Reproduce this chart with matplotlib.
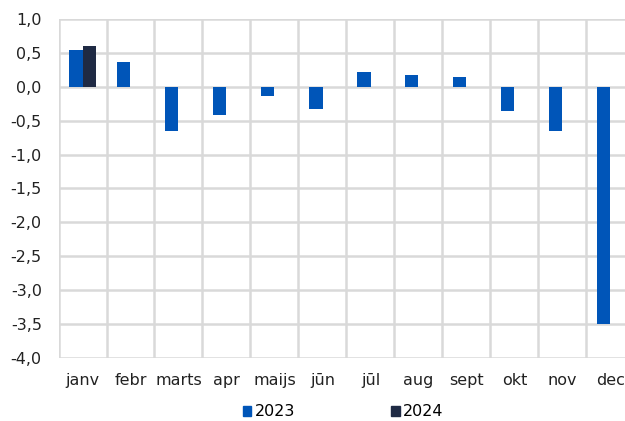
import matplotlib

matplotlib.use("Agg")
import matplotlib.pyplot as plt
import numpy as np
from matplotlib.patches import Patch

months = ["janv", "febr", "marts", "apr", "maijs", "jūn",
          "jūl", "aug", "sept", "okt", "nov", "dec"]
vals_2023 = [0.55, 0.36, -0.65, -0.42, -0.13, -0.33,
             0.22, 0.17, 0.14, -0.36, -0.65, -3.5]
vals_2024 = [0.60]
yticks = [1.0, 0.5, 0.0, -0.5, -1.0, -1.5, -2.0, -2.5, -3.0, -3.5, -4.0]

c2023 = "#0055b8"
c2024 = "#1f2a44"
grid_c = "#d9d9d9"

plt.rcParams["font.family"] = ["DejaVu Sans"]

fig = plt.figure(figsize=(6.25, 4.21), dpi=100)
ax = fig.add_axes([58.5 / 625, 63 / 421, 576 / 625, 339 / 421])

x = np.arange(len(months))
w = 0.29
ax.bar(x - w / 2, vals_2023, width=w, color=c2023, zorder=3)
ax.bar(x[: len(vals_2024)] + w / 2, vals_2024, width=w, color=c2024, zorder=3)

ax.set_xlim(-0.5, len(months) - 0.5)
ax.set_ylim(-4.0, 1.0)
ax.set_xticks(x)
ax.set_xticklabels(months)
ax.set_xticks(np.arange(len(months) + 1) - 0.5, minor=True)
ax.set_yticks(yticks)
ax.set_yticklabels([f"{v:.1f}".replace(".", ",") for v in yticks])

ax.grid(True, axis="y", which="major", color=grid_c, linewidth=1.8, zorder=0)
ax.grid(True, axis="x", which="minor", color=grid_c, linewidth=1.8, zorder=0)
ax.grid(False, axis="x", which="major")
ax.tick_params(axis="both", which="both", length=0, labelsize=11.5, colors="#222222")
ax.tick_params(axis="x", pad=11)
ax.tick_params(axis="y", pad=12)
for s in ax.spines.values():
    s.set_visible(False)

handles = [Patch(color=c2023, label="2023"), Patch(color=c2024, label="2024")]
fig.legend(handles=handles, loc="center", bbox_to_anchor=(343 / 625, 1 - 412 / 421),
           ncol=2, frameon=False, fontsize=11.5, handlelength=0.55, handleheight=0.55,
           handletextpad=0.2, columnspacing=6.0)

fig.savefig("out.png", dpi=100)
